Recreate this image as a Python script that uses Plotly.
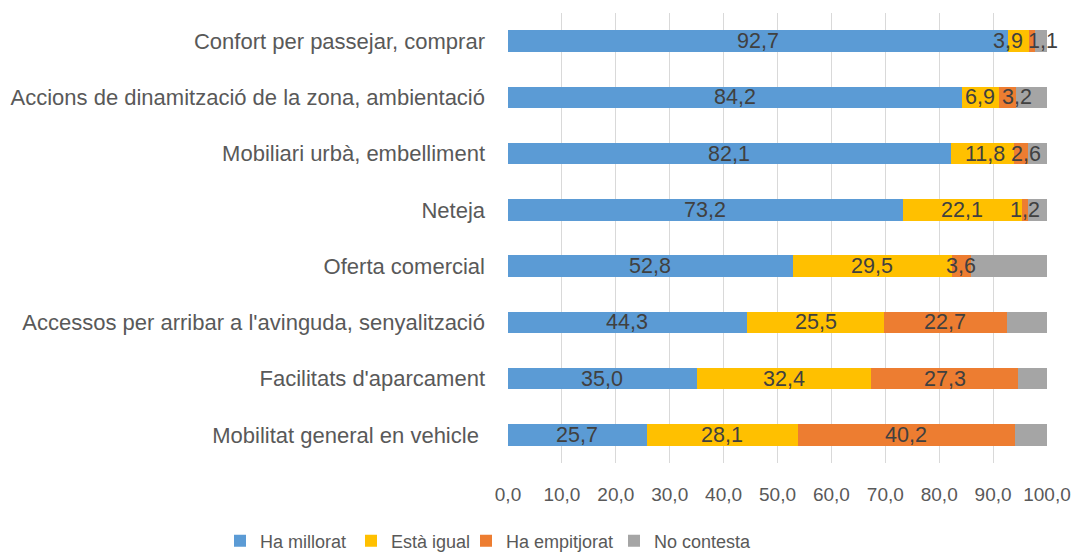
import plotly.graph_objects as go

categories = [
    "Confort per passejar, comprar",
    "Accions de dinamització de la zona, ambientació",
    "Mobiliari urbà, embelliment",
    "Neteja",
    "Oferta comercial",
    "Accessos per arribar a l'avinguda, senyalització",
    "Facilitats d'aparcament",
    "Mobilitat general en vehicle\u00a0",
]
ha_millorat = [92.7, 84.2, 82.1, 73.2, 52.8, 44.3, 35.0, 25.7]
esta_igual = [3.9, 6.9, 11.8, 22.1, 29.5, 25.5, 32.4, 28.1]
ha_empitjorat = [1.1, 3.2, 2.6, 1.2, 3.6, 22.7, 27.3, 40.2]
no_contesta = [2.3, 5.7, 3.5, 3.5, 14.1, 7.5, 5.3, 6.0]
series_names = ["Ha millorat", "Està igual", "Ha empitjorat", "No contesta"]
tick_vals = [0, 10, 20, 30, 40, 50, 60, 70, 80, 90, 100]
tick_text = ["0,0", "10,0", "20,0", "30,0", "40,0", "50,0", "60,0", "70,0", "80,0", "90,0", "100,0"]

colors = ["#5B9BD5", "#FFC000", "#ED7D31", "#A5A5A5"]
show_labels = [True, True, True, False]
# pixel nudges for crowded labels (series index, row index) -> xshift
label_shift = {(1, 0): -10, (2, 0): 11, (2, 1): 9, (2, 2): 5, (1, 2): 3}
# left pixel position of each legend entry
legend_left_px = [220, 351, 466, 614]

FONT = "Liberation Sans"
all_series = [ha_millorat, esta_igual, ha_empitjorat, no_contesta]

W, H = 1076, 552
ML, MR, MT, MB = 508, 29, 13, 89

fig = go.Figure()
legend_ids = ["legend", "legend2", "legend3", "legend4"]
for name, vals, col, lid in zip(series_names, all_series, colors, legend_ids):
    fig.add_trace(go.Bar(
        y=categories, x=vals, name=name, orientation="h",
        marker=dict(color=col, line=dict(width=0)),
        hoverinfo="x+name", legend=lid, showlegend=True,
    ))

annotations = []
for si, vals in enumerate(all_series):
    if not show_labels[si]:
        continue
    for ri, v in enumerate(vals):
        base = sum(all_series[k][ri] for k in range(si))
        annotations.append(dict(
            x=base + v / 2, y=categories[ri], xref="x", yref="y",
            text=f"{v:.1f}".replace(".", ","), showarrow=False,
            xshift=label_shift.get((si, ri), 0),
            font=dict(family=FONT, size=21.5, color="#404040"),
        ))

legend_layout = {}
for lid, px in zip(legend_ids, legend_left_px):
    legend_layout[lid] = dict(
        orientation="h", xref="container", yref="container",
        x=px / W, xanchor="left", y=(H - 541) / H, yanchor="middle",
        font=dict(family=FONT, size=18, color="#595959"),
        itemwidth=30, bgcolor="rgba(0,0,0,0)", visible=True,
    )

fig.update_layout(
    width=W, height=H, showlegend=True,
    barmode="stack", bargap=0.62,
    margin=dict(l=ML, r=MR, t=MT, b=MB),
    plot_bgcolor="white", paper_bgcolor="white",
    font=dict(family=FONT, size=18, color="#595959"),
    annotations=annotations,
    xaxis=dict(
        range=[0, 100], tickvals=tick_vals, ticktext=tick_text,
        showgrid=True, gridcolor="#D9D9D9", gridwidth=1,
        zeroline=False, showline=False, ticks="",
        ticklabelstandoff=18, fixedrange=True, automargin=False,
        tickfont=dict(family=FONT, size=19, color="#595959"),
    ),
    yaxis=dict(
        autorange="reversed", showgrid=False, ticks="",
        ticklabelstandoff=22, fixedrange=True, automargin=False,
        tickfont=dict(family=FONT, size=22, color="#595959"),
    ),
    **legend_layout,
)

fig.write_html("out.html")
